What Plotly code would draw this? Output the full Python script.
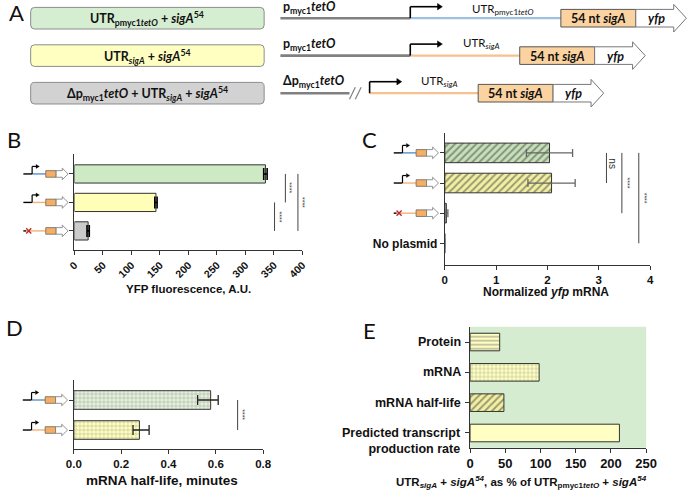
import plotly.graph_objects as go

W, H = 700, 495


def px(x):
    return x / W


def py(y):
    return 1 - y / H


# ---------------- data ----------------
construct_names = ["UTR pmyc1tetO + sigA54", "UTR sigA + sigA54", "Δpmyc1tetO + UTR sigA + sigA54"]

yfp_fluor = [335, 143, 24]
yfp_fluor_err = [3, 2, 2]
b_ticks = [0, 50, 100, 150, 200, 250, 300, 350, 400]

mrna_categories = construct_names + ["No plasmid"]
mrna_norm = [2.04, 2.08, 0.03, 0.0]
mrna_norm_err = [0.45, 0.46, 0.03, 0.0]
c_ticks = [0, 1, 2, 3, 4]

halflife_categories = construct_names[:2]
halflife = [0.578, 0.277]
halflife_err_plus = [0.032, 0.041]
halflife_err_minus = [0.055, 0.027]
d_ticks = [0.0, 0.2, 0.4, 0.6, 0.8]

e_categories = ["Protein", "mRNA", "mRNA half-life", "Predicted transcript production rate"]
e_percent = [42, 98, 48, 212]
e_ticks = [0, 50, 100, 150, 200, 250]

# significance comparisons (category index pairs, label)
b_sig = [(0, 1, "****"), (1, 2, "****"), (0, 2, "****")]
b_sig_x = [370, 351, 392]
c_sig = [(0, 1, "ns"), (0, 2, "****"), (0, 3, "****")]
c_sig_x = [3.15, 3.45, 3.78]
d_sig = [(0, 1, "****")]
d_sig_x = [0.692]

# ---------------- layout geometry (pixels) ----------------
panels = {
    "B": dict(x0=68.3, x1=302.7, top=154, bottom=250, rng=[2.67, -0.70], xr=[0, 400]),
    "C": dict(x0=449, x1=660, top=133, bottom=265, rng=[3.72, -0.66], xr=[0, 4]),
    "D": dict(x0=67.7, x1=262.3, top=380, bottom=449.3, rng=[1.643, -0.667], xr=[0, 0.8]),
    "E": dict(x0=475, x1=656, top=326.7, bottom=447.7, rng=[3.485, -0.505], xr=[0, 250]),
}


def cat_px(p, idx):
    g = panels[p]
    rt, rb = g["rng"][1], g["rng"][0]
    return g["top"] + (idx - rt) / (rb - rt) * (g["bottom"] - g["top"])


def pt(x, y):
    return f"{px(x):.5f},{py(y):.5f}"


shapes = []
annotations = []

FONT = "Liberation Sans, Arial, sans-serif"
FONT_A = "Lato, Open Sans, sans-serif"
AXC = "#333333"


def pline(x0, y0, x1, y1, color="black", width=1.0):
    shapes.append(dict(type="line", xref="paper", yref="paper", x0=px(x0), y0=py(y0),
                       x1=px(x1), y1=py(y1), line=dict(color=color, width=width)))


def ppath(d, fill, lc="#555", lw=0.8):
    shapes.append(dict(type="path", xref="paper", yref="paper", path=d, fillcolor=fill,
                       line=dict(color=lc, width=lw)))


def rrect(x0, y0, x1, y1, r, fill, lc, lw=1):
    d = (f"M {pt(x0 + r, y0)} L {pt(x1 - r, y0)} Q {pt(x1, y0)} {pt(x1, y0 + r)} "
         f"L {pt(x1, y1 - r)} Q {pt(x1, y1)} {pt(x1 - r, y1)} L {pt(x0 + r, y1)} "
         f"Q {pt(x0, y1)} {pt(x0, y1 - r)} L {pt(x0, y0 + r)} Q {pt(x0, y0)} {pt(x0 + r, y0)} Z")
    ppath(d, fill, lc, lw)


def text(x, y, s, size=12, family=FONT, xanchor="center", yanchor="middle", color="#111", angle=0,
         xref="paper", yref="paper", raw=False):
    annotations.append(dict(x=x if raw else px(x), y=y if raw else py(y), xref=xref, yref=yref,
                            text=s, showarrow=False, xanchor=xanchor, yanchor=yanchor,
                            textangle=angle, font=dict(size=size, family=family, color=color)))


def promoter(x, y, h, length, width=1.6):
    pline(x, y, x, y - h, "black", width)
    pline(x, y - h, x + length - 4, y - h, "black", width)
    ppath(f"M {pt(x + length - 5, y - h - 3.2)} L {pt(x + length, y - h)} L {pt(x + length - 5, y - h + 3.2)} Z",
          "black", "black", 0.5)


# ---------------- icons next to bars ----------------
UTR_BLUE = "#5b8fd0"
UTR_ORANGE = "#f2b27a"
BOX_ORANGE = "#f6ae62"


def icon(xr, yc, utr_color, deleted=False):
    x0 = xr - 46
    if not deleted:
        pline(x0, yc, x0 + 9, yc, "black", 1.4)
        pline(x0 + 9, yc, x0 + 23, yc, utr_color, 1.4)
        pline(x0 + 9, yc, x0 + 9, yc - 7.5, "black", 1.2)
        pline(x0 + 9, yc - 7.5, x0 + 13, yc - 7.5, "black", 1.2)
        ppath(f"M {pt(x0 + 13, yc - 9.5)} L {pt(x0 + 16.5, yc - 7.5)} L {pt(x0 + 13, yc - 5.5)} Z",
              "black", "black", 0.3)
    else:
        pline(x0, yc, x0 + 3, yc, "black", 1.4)
        pline(x0 + 3, yc, x0 + 23, yc, utr_color, 1.4)
        cx = x0 + 5.5
        pline(cx - 2.6, yc - 2.6, cx + 2.6, yc + 2.6, "#c0282a", 1.4)
        pline(cx - 2.6, yc + 2.6, cx + 2.6, yc - 2.6, "#c0282a", 1.4)
    shapes.append(dict(type="rect", xref="paper", yref="paper", x0=px(x0 + 23), x1=px(x0 + 33.7),
                       y0=py(yc + 3.3), y1=py(yc - 3.3), fillcolor=BOX_ORANGE,
                       line=dict(color="#666", width=0.8)))
    d = (f"M {pt(x0 + 33.7, yc - 3.3)} L {pt(x0 + 40, yc - 3.3)} L {pt(x0 + 40, yc - 5.8)} "
         f"L {pt(x0 + 46, yc)} L {pt(x0 + 40, yc + 5.8)} L {pt(x0 + 40, yc + 3.3)} L {pt(x0 + 33.7, yc + 3.3)} Z")
    ppath(d, "white", "#777", 0.8)


icon_colors = [UTR_BLUE, UTR_ORANGE, UTR_ORANGE]
icon_deleted = [False, False, True]
for p, n in (("B", 3), ("C", 3), ("D", 2)):
    for i in range(n):
        icon(panels[p]["x0"] - 6.5, cat_px(p, i), icon_colors[i], icon_deleted[i])

# ---------------- panel A ----------------
rows_y = [18.2, 55.6, 93.2]
box_fills = ["#d5edd0", "#ffffc2", "#d2d2d2"]
box_texts = [
    "<b>UTR<sub>pmyc1<i>tetO</i></sub> + <i>sigA</i><sup>54</sup></b>",
    "<b>UTR<sub><i>sigA</i></sub> + <i>sigA</i><sup>54</sup></b>",
    "<b>Δp<sub>myc1</sub><i>tetO</i> + UTR<sub><i>sigA</i></sub> + <i>sigA</i><sup>54</sup></b>",
]
for yc, f, t in zip(rows_y, box_fills, box_texts):
    rrect(23.3, yc - 10.8, 263.3, yc + 10.8, 4, f, "#8c8c8c", 1)
    text(143.3, yc + 0.5, t, size=12.5, family=FONT_A)

GRAY_DNA = "#808080"
# row 1
y = rows_y[0]
pline(280, y, 413.5, y, GRAY_DNA, 2.6)
pline(413.5, y, 568.3, y, "#9fc1e2", 2.2)
promoter(413.5, y, 11.5, 33)
# row 2
y = rows_y[1]
pline(280, y, 413.5, y, GRAY_DNA, 2.6)
pline(413.5, y, 526, y, "#f5c18e", 2.2)
promoter(413.5, y, 11.5, 33)
# row 3
y = rows_y[2]
pline(280, y, 351, y, GRAY_DNA, 2.6)
pline(351, y + 6, 357, y - 6, GRAY_DNA, 1.2)
pline(357, y + 6, 363, y - 6, GRAY_DNA, 1.2)
pline(371.7, y, 483.3, y, "#f5c18e", 2.2)
promoter(371.7, y, 11.5, 33)

gene_x = [568.3, 526, 483.3]
for yc, gx in zip(rows_y, gene_x):
    shapes.append(dict(type="rect", xref="paper", yref="paper", x0=px(gx), x1=px(gx + 77),
                       y0=py(yc + 8.8), y1=py(yc - 8.8), fillcolor="#fbd3a1",
                       line=dict(color="#555", width=1)))
    text(gx + 38.5, yc + 0.5, "<b>54 nt <i>sigA</i></b>", size=12.5, family=FONT_A)
    ax0 = gx + 77
    d = (f"M {pt(ax0, yc - 8.8)} L {pt(ax0 + 39, yc - 8.8)} L {pt(ax0 + 39, yc - 13.8)} "
         f"L {pt(ax0 + 52, yc)} L {pt(ax0 + 39, yc + 13.8)} L {pt(ax0 + 39, yc + 8.8)} L {pt(ax0, yc + 8.8)} Z")
    ppath(d, "white", "#777", 1)
    text(ax0 + 21, yc + 0.5, "<b><i>yfp</i></b>", size=12.5, family=FONT_A)

text(281, rows_y[0] - 11, "<b>p<sub>myc1</sub><i>tetO</i></b>", size=12.5, family=FONT_A, xanchor="left")
text(281, rows_y[1] - 11, "<b>p<sub>myc1</sub><i>tetO</i></b>", size=12.5, family=FONT_A, xanchor="left")
text(281, rows_y[2] - 12, "<b>Δp<sub>myc1</sub><i>tetO</i></b>", size=12.5, family=FONT_A, xanchor="left")
text(508, rows_y[0] - 9, "UTR<sub>pmyc1<i>tetO</i></sub>", size=11.5, family=FONT_A)
text(486.7, rows_y[1] - 12, "UTR<sub><i>sigA</i></sub>", size=11.5, family=FONT_A)
text(443.3, rows_y[2] - 12, "UTR<sub><i>sigA</i></sub>", size=11.5, family=FONT_A)

# panel letters
for L, x, yy in (("A", 9, 13), ("B", 6, 139), ("C", 372, 139), ("D", 7, 327), ("E", 372, 330)):
    text(x, yy, L, size=22, family=FONT_A)

# ---------------- bars ----------------
fig = go.Figure()
LINE = dict(color="#333333", width=1)

fig.add_trace(go.Bar(
    y=construct_names, x=yfp_fluor, orientation="h", width=0.64,
    marker=dict(color=["#cdeac5", "#ffffb8", "#cbcbcb"], line=LINE),
    error_x=dict(type="data", array=yfp_fluor_err, color="black", thickness=1.6, width=6),
    xaxis="x", yaxis="y", showlegend=False, hoverinfo="skip"))

fig.add_trace(go.Bar(
    y=mrna_categories, x=mrna_norm, orientation="h", width=0.65,
    marker=dict(color=["#c6e0b8", "#f3f0a2", "#bbbbbb", "#bbbbbb"], line=LINE,
                pattern=dict(shape=["/", "/", "", ""], fgcolor=["#3e5a38", "#4d4a22", "#555", "#555"],
                             size=5, solidity=0.4)),
    error_x=dict(type="data", array=mrna_norm_err, color="#666666", thickness=1.3, width=4),
    xaxis="x2", yaxis="y2", showlegend=False, hoverinfo="skip"))

fig.add_trace(go.Bar(
    y=halflife_categories, x=halflife, orientation="h", width=0.62,
    marker=dict(color=["#e4f2dc", "#ffffc0"], line=LINE,
                pattern=dict(shape=["+", "+"], fgcolor=["#bfe0b2", "#e8e68a"], size=4, solidity=0.2)),
    error_x=dict(type="data", symmetric=False, array=halflife_err_plus, arrayminus=halflife_err_minus,
                 color="#222222", thickness=1.3, width=5),
    xaxis="x3", yaxis="y3", showlegend=False, hoverinfo="skip"))

fig.add_trace(go.Bar(
    y=e_categories, x=e_percent, orientation="h", width=0.58,
    marker=dict(color=["#ffffc4", "#ffffc4", "#f3f0a2", "#ffffc4"], line=LINE,
                pattern=dict(shape=["-", "+", "/", ""], fgcolor=["#555555", "#ecea9c", "#3a3a1a", "#555"],
                             size=[4, 4, 5, 4], solidity=[0.3, 0.2, 0.4, 0.2])),
    xaxis="x4", yaxis="y4", showlegend=False, hoverinfo="skip"))

# E background
shapes.insert(0, dict(type="rect", xref="x4 domain", yref="y4 domain", x0=0, x1=1, y0=0, y1=1,
                      fillcolor="#d5ecd0", line=dict(width=0), layer="below"))

# significance lines + stars
for (a, b, lab), xv in zip(b_sig, b_sig_x):
    shapes.append(dict(type="line", xref="x", yref="y", x0=xv, x1=xv, y0=a, y1=b,
                       line=dict(color="#444", width=1)))
    text(xv + 8, (a + b) / 2, lab, size=7, angle=90, xref="x", yref="y", raw=True, color="#333")
for (a, b, lab), xv in zip(c_sig, c_sig_x):
    shapes.append(dict(type="line", xref="x2", yref="y2", x0=xv, x1=xv, y0=a, y1=b,
                       line=dict(color="#444", width=1)))
    text(xv + 0.11, (a + b) / 2 if lab != "ns" else 0.35, lab, size=7 if lab != "ns" else 10, angle=90,
         xref="x2", yref="y2", raw=True, color="#333")
for (a, b, lab), xv in zip(d_sig, d_sig_x):
    shapes.append(dict(type="line", xref="x3", yref="y3", x0=xv, x1=xv, y0=a, y1=b,
                       line=dict(color="#444", width=1)))
    text(xv + 0.022, (a + b) / 2, lab, size=7, angle=90, xref="x3", yref="y3", raw=True, color="#333")

# E category labels
for i, cat in enumerate(e_categories):
    if i == 3:
        words = cat.split(" ")
        lab = "<b>" + " ".join(words[:2]) + "<br>" + " ".join(words[2:]) + "</b>"
        annotations.append(dict(x=px(468), y=i, xref="paper", yref="y4", text=lab, showarrow=False,
                                xanchor="right", yanchor="middle", align="right", yshift=-8,
                                font=dict(size=12.5, family=FONT, color="#111")))
    else:
        annotations.append(dict(x=px(468), y=i, xref="paper", yref="y4", text="<b>" + cat + "</b>",
                                showarrow=False, xanchor="right", yanchor="middle",
                                font=dict(size=12.5, family=FONT, color="#111")))

# axis titles
text(185.5, 289.3, "<b>YFP fluorescence, A.U.</b>", size=11.5)
text(553, 291.7, "<b>Normalized <i>yfp</i> mRNA</b>", size=12)
text(158.7, 480.7, "<b>mRNA half-life, minutes</b>", size=13.5)
text(528, 482, "<b>UTR<sub><i>sigA</i></sub> + <i>sigA<sup>54</sup></i>, as % of "
               "UTR<sub>pmyc1<i>tetO</i></sub> + <i>sigA<sup>54</sup></i></b>", size=11.5)


def xaxis_cfg(p, ticks, size, angle=0, fmt=None):
    g = panels[p]
    d = dict(domain=[px(g["x0"]), px(g["x1"])], range=g["xr"], tickvals=ticks, showline=True,
             linecolor=AXC, linewidth=1, ticks="outside", ticklen=4, tickcolor=AXC, showgrid=False,
             zeroline=False, tickangle=angle,
             tickfont=dict(family=FONT, size=size, color="#111", weight="bold"))
    if fmt:
        d["tickformat"] = fmt
    return d


def yaxis_cfg(p, cats, ticktext=None):
    g = panels[p]
    d = dict(domain=[py(g["bottom"]), py(g["top"])], range=g["rng"], type="category",
             categoryorder="array", categoryarray=cats, showline=True, linecolor=AXC, linewidth=1,
             ticks="outside", ticklen=4, tickcolor=AXC, showgrid=False, zeroline=False,
             showticklabels=ticktext is not None,
             tickfont=dict(family=FONT, size=12, color="#111", weight="bold"))
    if ticktext is not None:
        d["tickmode"] = "array"
        d["tickvals"] = cats
        d["ticktext"] = ticktext
    return d


fig.update_layout(
    width=W, height=H, margin=dict(l=0, r=0, t=0, b=0),
    paper_bgcolor="white", plot_bgcolor="rgba(0,0,0,0)", bargap=0.3, hovermode=False,
    xaxis=dict(xaxis_cfg("B", b_ticks, 10.5, angle=-45), anchor="y"),
    yaxis=dict(yaxis_cfg("B", construct_names), anchor="x"),
    xaxis2=dict(xaxis_cfg("C", c_ticks, 11.5), anchor="y2"),
    yaxis2=dict(yaxis_cfg("C", mrna_categories, ["", "", "", "No plasmid"]), anchor="x2"),
    xaxis3=dict(xaxis_cfg("D", d_ticks, 11.5, fmt=".1f"), anchor="y3"),
    yaxis3=dict(yaxis_cfg("D", halflife_categories), anchor="x3"),
    xaxis4=dict(xaxis_cfg("E", e_ticks, 13), anchor="y4"),
    yaxis4=dict(yaxis_cfg("E", e_categories), anchor="x4"),
    shapes=shapes, annotations=annotations,
)

fig.write_html("out.html", config={"displayModeBar": False},
               post_script="document.body.style.margin='0px';")
